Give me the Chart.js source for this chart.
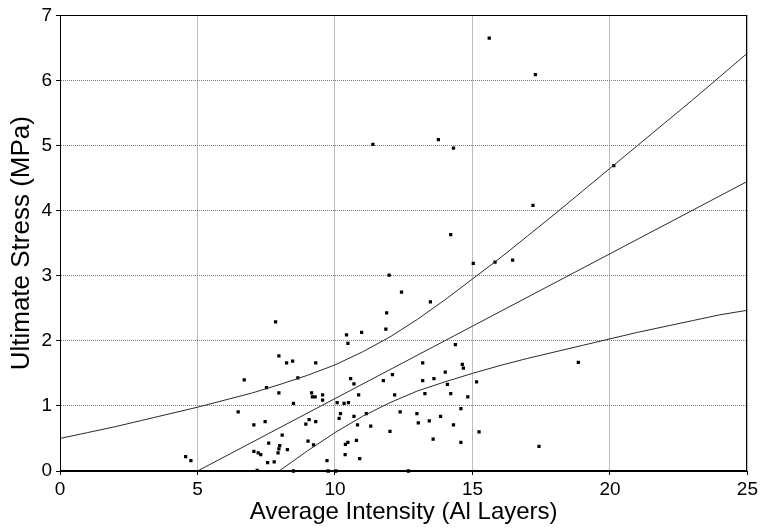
<!DOCTYPE html>
<html>
<head>
<meta charset="utf-8">
<script src="https://cdn.jsdelivr.net/npm/chart.js@4/dist/chart.umd.min.js"></script>
<style>
html,body{margin:0;padding:0;background:#fff;}
#wrap{width:761px;height:529px;}
</style>
</head>
<body>
<div id="wrap"><canvas id="c" width="761" height="529"></canvas></div>
<script>
// Scatter measurements: average intensity (Al layers) vs ultimate stress (MPa)
const pointX = [7.84,10.42,10.47,7.96,8.24,8.46,9.30,6.70,8.65,7.51,7.96,9.15,9.18,9.28,9.55,9.55,8.49,10.08,10.33,10.49,
  6.48,10.20,10.15,7.05,7.46,8.94,9.06,9.30,8.08,9.02,9.22,7.59,7.99,7.96,7.93,8.27,7.05,7.21,7.30,4.57,
  4.76,7.55,7.79,9.71,10.38,10.47,10.37,7.17,8.49,9.75,10.03,
  14.21,15.03,15.82,16.46,11.97,12.42,13.47,11.88,11.85,10.97,14.38,13.19,14.63,14.67,14.01,10.57,10.69,12.09,11.76,
  13.19,13.60,14.09,15.15,10.86,12.17,13.27,14.21,14.83,10.69,11.14,12.37,12.98,14.58,10.82,11.30,13.03,13.43,13.84,
  14.31,12.00,15.24,10.78,13.57,14.58,10.90,17.42,12.67,
  15.61,17.29,13.76,14.31,17.20,20.14,11.38,18.85];
const pointY = [2.29,2.09,1.96,1.77,1.66,1.69,1.66,1.40,1.43,1.28,1.20,1.20,1.14,1.14,1.17,1.09,1.04,1.05,1.04,1.05,
  0.91,0.88,0.81,0.71,0.76,0.72,0.79,0.76,0.55,0.46,0.40,0.43,0.39,0.34,0.28,0.33,0.30,0.28,0.25,0.22,
  0.16,0.13,0.14,0.16,0.41,0.44,0.25,0.01,0.00,0.00,0.00,
  3.63,3.19,3.21,3.24,3.01,2.75,2.60,2.43,2.18,2.13,1.94,1.66,1.64,1.58,1.52,1.42,1.34,1.48,1.39,
  1.39,1.42,1.33,1.37,1.17,1.17,1.19,1.19,1.14,0.84,0.88,0.91,0.88,0.96,0.71,0.69,0.74,0.77,0.84,
  0.71,0.61,0.60,0.47,0.49,0.44,0.19,0.38,0.00,
  6.65,6.09,5.09,4.96,4.08,4.69,5.02,1.67];

// Fitted line (read at its ends)
const fitX = [5, 25];
const fitY = [0.00, 4.45];

// Confidence band curves, read at integer x
const bandX = [0,1,2,3,4,5,6,7,8,9,10,11,12,13,14,15,16,17,18,19,20,21,22,23,24,25];
const upperY = [0.50,0.59,0.68,0.78,0.88,0.98,1.09,1.20,1.33,1.47,1.63,1.83,2.06,2.33,2.63,2.95,3.27,3.61,3.95,4.30,4.65,5.00,5.35,5.70,6.06,6.42];
const lowerY = [-2.72,-2.37,-2.02,-1.67,-1.32,-0.98,-0.64,-0.31,0.01,0.31,0.59,0.84,1.05,1.23,1.37,1.50,1.62,1.73,1.83,1.93,2.03,2.13,2.22,2.31,2.40,2.47];

const xTicks = [0,5,10,15,20,25];
const yTicks = [0,1,2,3,4,5,6,7];
const xTitle = 'Average Intensity (Al Layers)';
const yTitle = 'Ultimate Stress (MPa)';

const zip = (xs, ys) => xs.map((x, i) => ({x: x, y: ys[i]}));

const frame = {
  id: 'frame',
  afterDraw(chart) {
    const a = chart.chartArea, ctx = chart.ctx;
    ctx.save();
    ctx.strokeStyle = '#000';
    ctx.lineWidth = 1;
    ctx.strokeRect(Math.round(a.left) + 0.5, Math.round(a.top) + 0.5, Math.round(a.right - a.left) - 1, Math.round(a.bottom - a.top) - 1);
    ctx.restore();
  }
};

const lineDs = (data) => ({
  type: 'line', data: data, borderColor: '#2a2a2a', borderWidth: 1,
  pointRadius: 0, fill: false, tension: 0, showLine: true
});

const font = 'Liberation Sans, Arial, sans-serif';

const gridOpts = {color: '#7a7a7a', lineWidth: 1, drawTicks: true, tickLength: 4, tickColor: '#000', tickBorderDash: []};
const borderOpts = {display: true, color: '#000', width: 1, dash: [1, 1]};

new Chart(document.getElementById('c'), {
  type: 'scatter',
  data: {
    datasets: [
      lineDs(zip(bandX, upperY)),
      lineDs(zip(fitX, fitY)),
      lineDs(zip(bandX, lowerY)),
      {
        type: 'scatter', data: zip(pointX, pointY),
        pointStyle: 'rect', pointRadius: 2.3, backgroundColor: '#000', borderWidth: 0,
        clip: 4
      }
    ]
  },
  plugins: [frame],
  options: {
    responsive: false, animation: false,
    layout: {padding: {top: 10, right: 13, left: 0, bottom: 0}},
    plugins: {legend: {display: false}, tooltip: {enabled: false}},
    scales: {
      x: {
        type: 'linear', min: 0, max: 25,
        afterFit(s) { s.height = 58; },
        afterBuildTicks(s) { s.ticks = xTicks.map(v => ({value: v})); },
        grid: gridOpts,
        border: borderOpts,
        ticks: {color: '#000', font: {family: font, size: 19}, padding: 3, maxRotation: 0},
        title: {display: true, text: xTitle, color: '#000', font: {family: font, size: 24}, padding: {top: 0, bottom: 2}}
      },
      y: {
        type: 'linear', min: 0, max: 7,
        afterFit(s) { s.width = 60; },
        afterBuildTicks(s) { s.ticks = yTicks.map(v => ({value: v})); },
        grid: gridOpts,
        border: borderOpts,
        ticks: {color: '#000', font: {family: font, size: 19}, padding: 4},
        title: {display: true, text: yTitle, color: '#000', font: {family: font, size: 26}, padding: {top: 6, bottom: 0}}
      }
    }
  }
});
</script>
</body>
</html>
